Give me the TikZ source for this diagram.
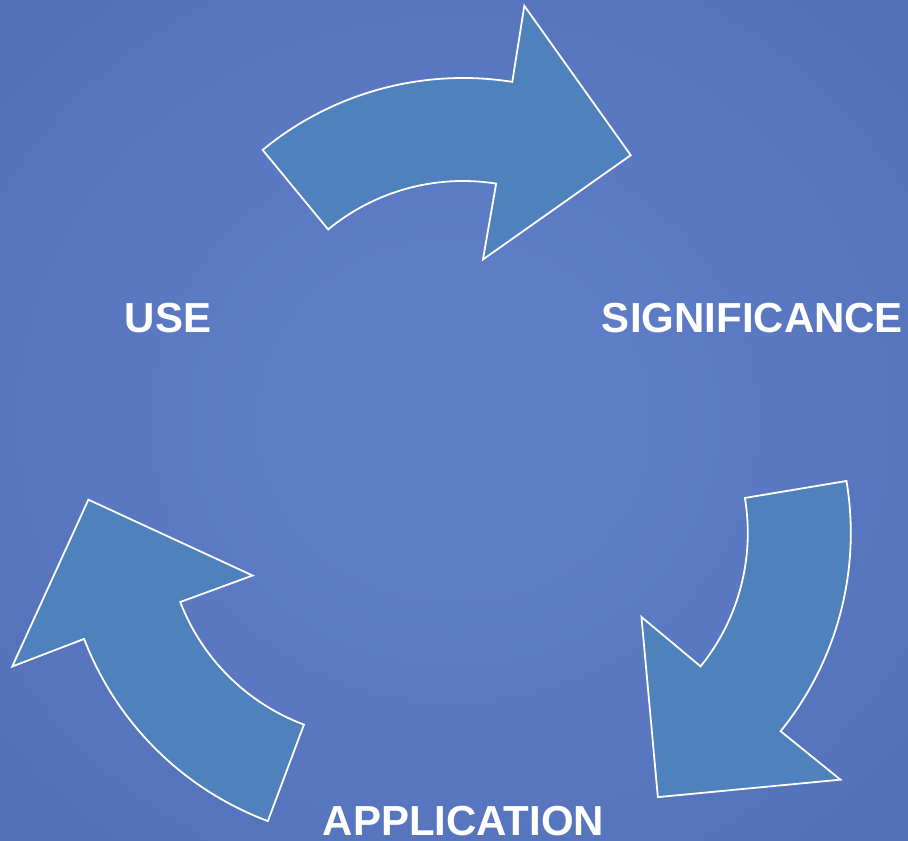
\documentclass[tikz,border=0pt]{standalone}
\usepackage{fontspec}
\setmainfont{Liberation Sans}
\definecolor{bgin}{RGB}{93,125,198}
\definecolor{bgmid}{RGB}{80,108,180}
\definecolor{bgout}{RGB}{62,86,150}
\definecolor{arrowfill}{RGB}{79,129,189}
\pgfdeclareradialshading{bgshade}{\pgfpoint{0bp}{0bp}}{%
  color(0bp)=(bgin); color(10bp)=(bgin); color(42bp)=(bgmid); color(72bp)=(bgout)}
\tikzset{
  cyclearrow/.style={fill=arrowfill, draw=white, line width=1.8pt, line join=miter},
  label/.style={text=white, font=\bfseries\fontsize{42}{42}\selectfont, inner sep=0pt, anchor=base}
}
\begin{document}
\begin{tikzpicture}
% image (px,py) -> (px-459, 484-py) in pt
\path[use as bounding box] (-459pt,-357pt) rectangle (449pt,484pt);
\shade[shading=bgshade] (-459pt,-357pt) rectangle (449pt,484pt);
\foreach \r in {0,-120,120}{
  \begin{scope}[rotate=\r, shift={(4pt,91pt)}]
    \path[cyclearrow]
      (129.5:315pt) arc[start angle=129.5, end angle=81, radius=315pt]
      -- (81:392pt) -- (54.8:291pt) -- (81.5:135pt) -- (81:212pt)
      arc[start angle=81, end angle=129.5, radius=212pt] -- cycle;
  \end{scope}
}
\node[label] (use) at (-291pt,151.5pt) {USE};
\node[label] (sig) at (293.5pt,151.5pt) {SIGNIFICANCE};
\node[label] (app) at (4.5pt,-351pt) {APPLICATION};
\end{tikzpicture}
\end{document}
